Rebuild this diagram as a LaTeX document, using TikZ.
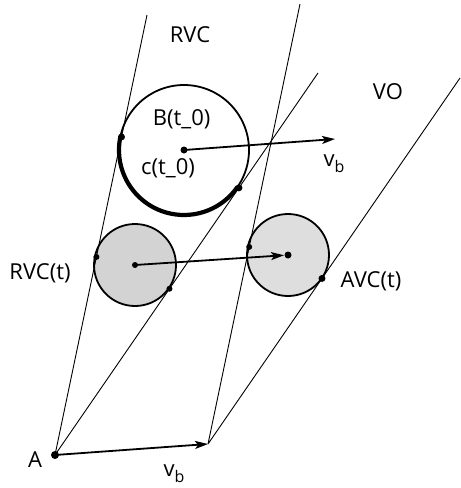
\documentclass[tikz,border=0pt]{standalone}
\usepackage{fontspec}
\setmainfont{Open Sans}
\usetikzlibrary{calc,arrows.meta}
\definecolor{rvcfill}{HTML}{D3D3D3}
\definecolor{avcfill}{HTML}{DEDEDE}
\tikzset{
  ln/.style={line width=0.9pt},
  ar/.style={-{Stealth[length=13pt,width=8pt,inset=3pt]},line width=1.8pt},
  disc/.style={draw,line width=1.8pt},
  lbl/.style={font=\fontsize{22}{26}\selectfont,inner sep=0pt}
}
\newcommand{\velb}{v\raisebox{-6pt}{\fontsize{16}{16}\selectfont b}}
\begin{document}
\begin{tikzpicture}[x=1pt,y=-1pt]
\useasboundingbox (0,0) rectangle (461,488);
% apexes and cone edges
\coordinate (A) at (55,455);
\coordinate (Avb) at (208,444);
\coordinate (rvcL) at (147,15);
\coordinate (rvcR) at (318,73);
\coordinate (voL) at (300,4);
\coordinate (voR) at (460,78);
% centres
\coordinate (c0) at (184,150);
\coordinate (vbtip) at (335,139);
\coordinate (c1) at (135,265);
\coordinate (c2) at (288,255);
% tangent points
\coordinate (t0L) at ($(A)!(c0)!(rvcL)$);
\coordinate (t0R) at ($(A)!(c0)!(rvcR)$);
\coordinate (t1L) at ($(A)!(c1)!(rvcL)$);
\coordinate (t1R) at ($(A)!(c1)!(rvcR)$);
\coordinate (t2L) at ($(Avb)!(c2)!(voL)$);
\coordinate (t2R) at ($(Avb)!(c2)!(voR)$);
\draw[disc,fill=rvcfill] (c1) circle[radius=41];
\draw[disc,fill=avcfill] (c2) circle[radius=41];
\draw[disc] (c0) circle[radius=65];
\draw[line width=4.2pt] (c0) ++(191.7:65) arc[start angle=191.7,end angle=34.6,radius=65];
\draw[ln] (A) -- (rvcL) (A) -- (rvcR);
\draw[ln] (Avb) -- (voL) (Avb) -- (voR);
\draw[ar] (c0) -- (vbtip);
\draw[ar,shorten >=4pt] (c1) -- (c2);
\draw[ar] (A) -- (Avb);
\fill (A) circle[radius=4];
\fill (c0) circle[radius=3.5] (c1) circle[radius=3] (c2) circle[radius=3.5];
\fill (t0L) circle[radius=3.5] (t0R) circle[radius=3.5];
\fill (t1L) circle[radius=3] (t1R) circle[radius=3];
\fill (t2L) circle[radius=3] (t2R) circle[radius=3.5];
\node[lbl] (lRVC) at (190,34.5) {RVC};
\node[lbl] (lVO) at (388,91.5) {VO};
\node[lbl] (lB) at (181.7,119) {B(t\_0)};
\node[lbl] (lc) at (168,168.5) {c(t\_0)};
\node[lbl] (lvbTop) at (334,164) {\velb};
\node[lbl] (lRVCt) at (40,273) {RVC(t)};
\node[lbl] (lAVCt) at (371,281) {AVC(t)};
\node[lbl] (lA) at (35,460) {A};
\node[lbl] (lvbBot) at (174,473.5) {\velb};
\end{tikzpicture}
\end{document}
